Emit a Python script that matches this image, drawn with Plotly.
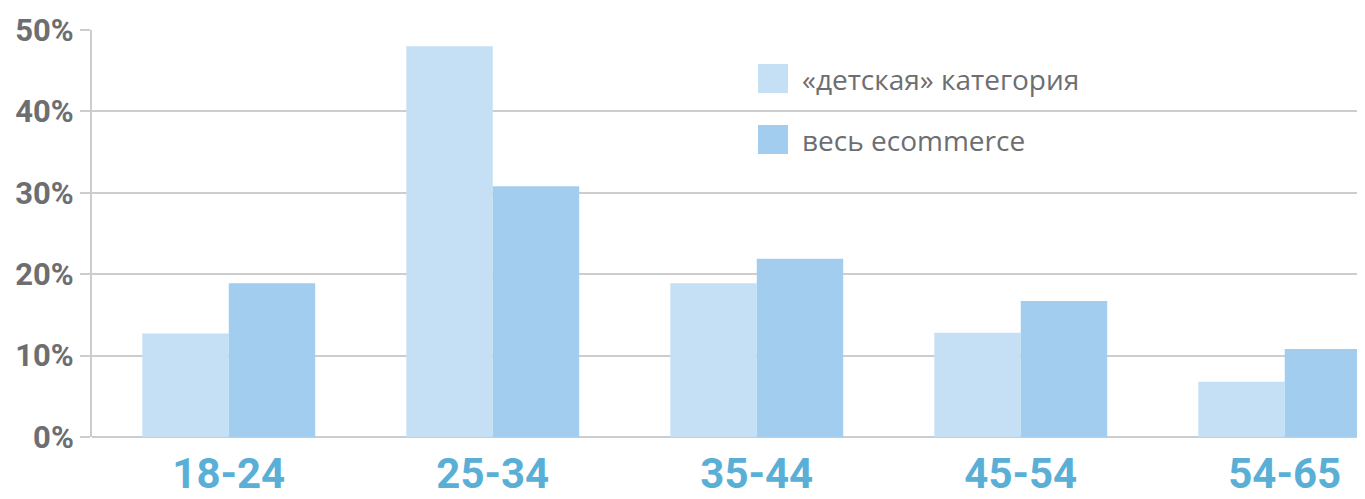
import plotly.graph_objects as go

categories = ["18-24", "25-34", "35-44", "45-54", "54-65"]
kids_values = [12.7, 48.0, 18.9, 12.8, 6.8]
all_values = [18.9, 30.8, 21.9, 16.7, 10.8]
series_names = ["«детская» категория", "весь ecommerce"]
y_ticks = [0, 10, 20, 30, 40, 50]
y_tick_labels = ["0%", "10%", "20%", "30%", "40%", "50%"]

LIGHT = "#c5e0f4"
DARK = "#a2cdee"
GRID = "#cdcdcd"
GRAY_TXT = "#6d6e71"
BLUE_TXT = "#5aafd6"
NARROW = "Roboto, DejaVu Sans Condensed, sans-serif"

fig = go.Figure()
fig.add_trace(go.Bar(x=categories, y=kids_values, name=series_names[0],
                     marker=dict(color=LIGHT, line=dict(width=0)), showlegend=False))
fig.add_trace(go.Bar(x=categories, y=all_values, name=series_names[1],
                     marker=dict(color=DARK, line=dict(width=0)), showlegend=False))

# page body has an 8px default margin; compensate so the plot sits where the reference does
fig.update_layout(
    width=1357, height=491,
    margin=dict(l=84, r=0, t=22, b=62, autoexpand=False),
    paper_bgcolor="white", plot_bgcolor="white",
    barmode="group", bargap=0.345, bargroupgap=0,
    xaxis=dict(type="category", range=[-0.518, 4.304], showgrid=False,
               showline=False, ticks="", automargin=False,
               ticklabelstandoff=8,
               tickfont=dict(family=NARROW, size=42, color=BLUE_TXT, weight="bold")),
    yaxis=dict(range=[0, 50], tickvals=y_ticks, ticktext=y_tick_labels,
               automargin=False,
               showgrid=True, gridcolor=GRID, gridwidth=2,
               zeroline=True, zerolinecolor=GRID, zerolinewidth=2,
               showline=True, linecolor=GRID, linewidth=2,
               ticks="outside", ticklen=10, tickcolor=GRID, tickwidth=2,
               ticklabelstandoff=0,
               tickfont=dict(family=NARROW, size=31, color=GRAY_TXT, weight="bold")),
)

legend_colors = [LIGHT, DARK]
legend_y = [(0.845, 0.9165), (0.6953, 0.7666)]
for name, col, (y0, y1) in zip(series_names, legend_colors, legend_y):
    fig.add_shape(type="rect", xref="paper", yref="paper",
                  x0=0.5232, x1=0.5467, y0=y0, y1=y1,
                  fillcolor=col, line=dict(width=0))
    fig.add_annotation(xref="paper", yref="paper", x=0.5562, y=(y0 + y1) / 2,
                       text=name, showarrow=False, xanchor="left", yanchor="middle",
                       font=dict(family="Open Sans, sans-serif", size=28, color=GRAY_TXT))

fig.write_html("out.html")
